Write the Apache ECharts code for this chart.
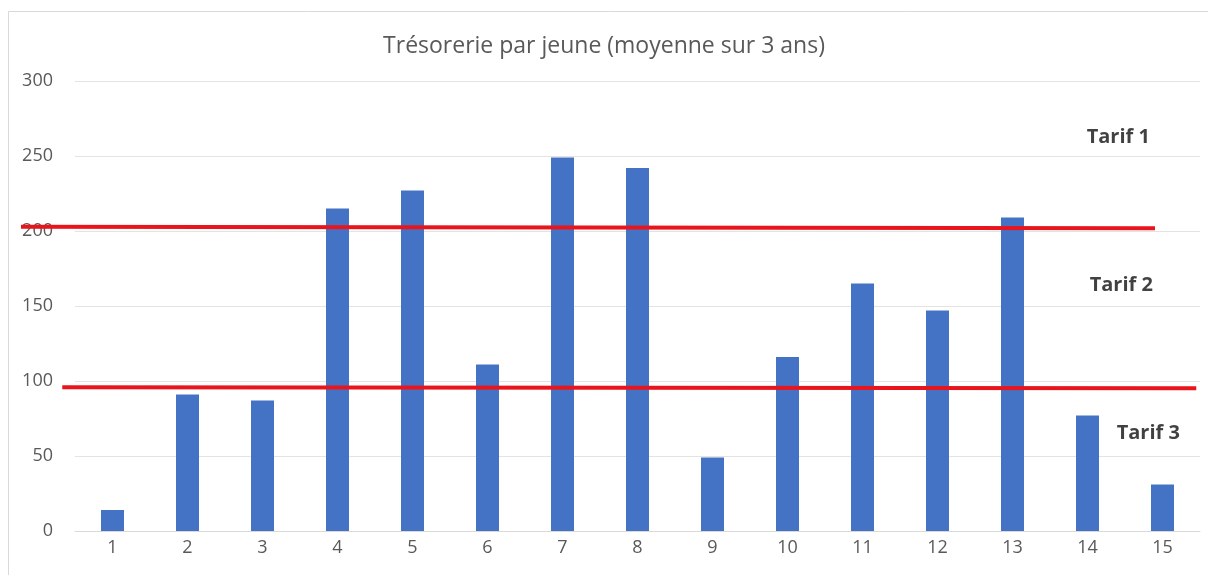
<!DOCTYPE html>
<html>
<head>
<meta charset="utf-8">
<script src="https://cdn.jsdelivr.net/npm/echarts@6/dist/echarts.min.js"></script>
<style>
  html, body { margin: 0; padding: 0; background: #fff; }
  #chart { width: 1208px; height: 575px; }
</style>
</head>
<body>
<div id="chart"></div>
<script>
const categories = ["1", "2", "3", "4", "5", "6", "7", "8", "9", "10", "11", "12", "13", "14", "15"];
const values = [14, 91, 87, 215, 227, 111, 249, 242, 49, 116, 165, 147, 209, 77, 31];

// hand-drawn thresholds, [category position, value]
const tarifLineHigh = [[-0.22, 202.9], [14.9, 201.8]];
const tarifLineLow = [[0.33, 95.8], [15.45, 95.1]];

const tarifLabels = [
  { name: "Tarif 1", value: [14.41, 262.5] },
  { name: "Tarif 2", value: [14.45, 164] },
  { name: "Tarif 3", value: [14.81, 65.3] },
];

const W = 1208;
const gridLeft = 75;
const gridRight = 8;
const step = (W - gridLeft - gridRight) / categories.length;
// overlay axis spans the full width so the hand lines can run past the plot edge
const overlayMin = 0.5 - gridLeft / step;
const overlayMax = 0.5 + (W - gridLeft) / step;

const chart = echarts.init(document.getElementById("chart"));
const gray = "#595959";
const red = "#e8161c";
const font = "Open Sans";

chart.setOption({
  backgroundColor: "#fff",
  animation: false,
  title: {
    text: "Trésorerie par jeune (moyenne sur 3 ans)",
    left: "center",
    top: 30,
    textStyle: { color: gray, fontSize: 23, fontWeight: "normal", fontFamily: font },
  },
  graphic: [
    {
      type: "rect",
      shape: { x: 8.5, y: 11.5, width: 1230, height: 600 },
      style: { fill: "none", stroke: "#d9d9d9", lineWidth: 1 },
      silent: true,
    },
  ],
  grid: [
    { left: gridLeft, right: gridRight, top: 81, bottom: 44 },
    { left: 0, right: 0, top: 81, bottom: 44 },
  ],
  xAxis: [
    {
      type: "category",
      data: categories,
      axisLine: { lineStyle: { color: "#d9d9d9" } },
      axisTick: { show: false },
      axisLabel: { color: gray, fontSize: 18, fontFamily: font, margin: 8 },
    },
    {
      type: "value",
      gridIndex: 1,
      min: overlayMin,
      max: overlayMax,
      show: false,
    },
  ],
  yAxis: [
    {
      type: "value",
      min: 0,
      max: 300,
      interval: 50,
      axisLine: { show: false },
      axisTick: { show: false },
      splitLine: { lineStyle: { color: "#e3e3e3" } },
      axisLabel: { color: gray, fontSize: 18, fontFamily: font, margin: 22 },
    },
    {
      type: "value",
      gridIndex: 1,
      min: 0,
      max: 300,
      show: false,
    },
  ],
  series: [
    {
      type: "bar",
      data: values,
      barWidth: 23,
      itemStyle: { color: "#4472c4" },
    },
    {
      type: "line",
      xAxisIndex: 1,
      yAxisIndex: 1,
      data: tarifLineHigh,
      symbol: "none",
      lineStyle: { color: red, width: 4 },
      z: 5,
    },
    {
      type: "line",
      xAxisIndex: 1,
      yAxisIndex: 1,
      data: tarifLineLow,
      symbol: "none",
      lineStyle: { color: red, width: 4 },
      z: 5,
    },
    {
      type: "scatter",
      xAxisIndex: 1,
      yAxisIndex: 1,
      data: tarifLabels,
      symbolSize: 0,
      label: {
        show: true,
        position: "inside",
        formatter: (p) => p.name,
        color: "#111",
        fontSize: 20,
        fontWeight: "bold",
        fontFamily: font,
      },
      z: 6,
    },
  ],
});
</script>
</body>
</html>
